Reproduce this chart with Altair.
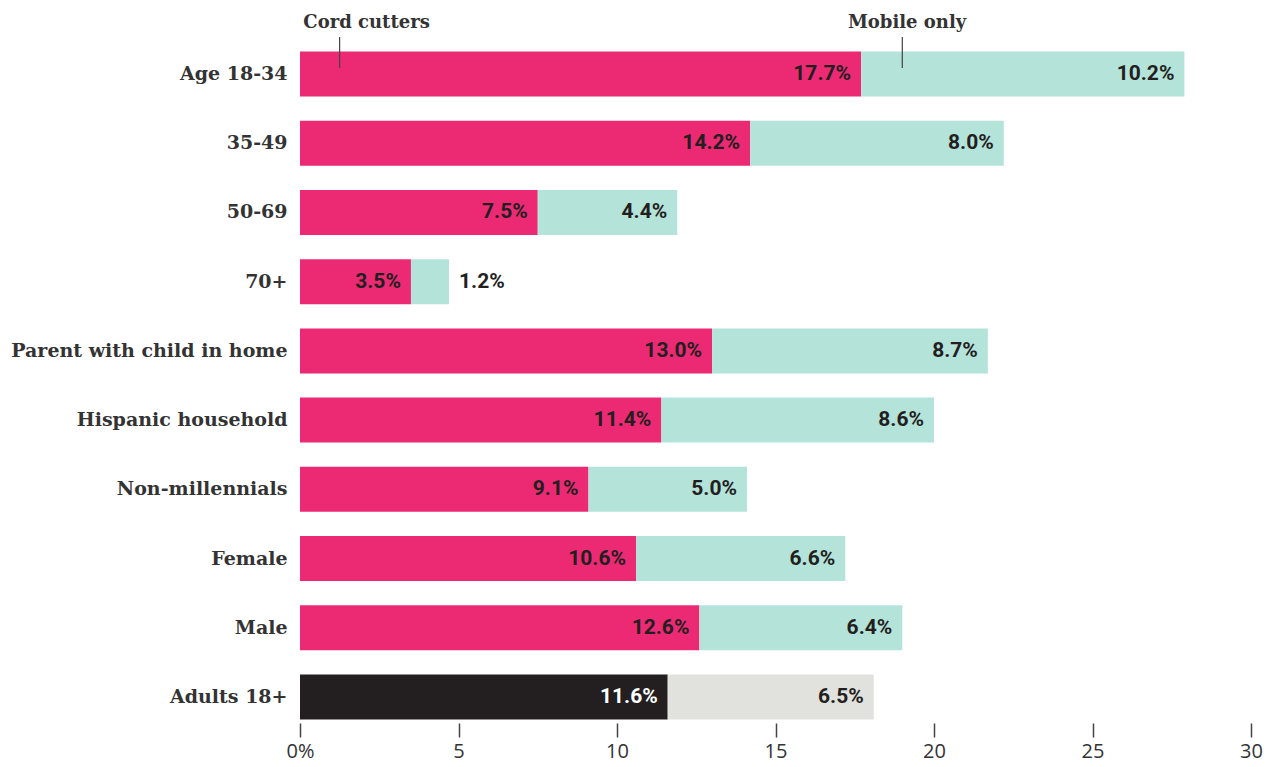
import altair as alt
import pandas as pd

categories = ["Age 18-34", "35-49", "50-69", "70+", "Parent with child in home",
              "Hispanic household", "Non-millennials", "Female", "Male", "Adults 18+"]
cord_cutters = [17.7, 14.2, 7.5, 3.5, 13.0, 11.4, 9.1, 10.6, 12.6, 11.6]
mobile_only = [10.2, 8.0, 4.4, 1.2, 8.7, 8.6, 5.0, 6.6, 6.4, 6.5]
tick_values = [0, 5, 10, 15, 20, 25, 30]

ann_labels = ["Cord cutters", "Mobile only"]
ann_text_x = [2.1, 19.15]
ann_tick_x = [1.25, 19.0]

rows = []
for cat, c, m in zip(categories, cord_cutters, mobile_only):
    total = cat == "Adults 18+"
    rows.append(dict(category=cat, seg="cord", key="cord_total" if total else "cord",
                     start=0.0, end=c, label=f"{c:.1f}%", inside=True, white=total))
    rows.append(dict(category=cat, seg="mobile", key="mobile_total" if total else "mobile",
                     start=c, end=c + m, label=f"{m:.1f}%", inside=m >= 2, white=False))
df = pd.DataFrame(rows)
ann = pd.DataFrame({"label": ann_labels, "tx": ann_text_x, "kx": ann_tick_x})

xscale = alt.Scale(domain=[0, 30], nice=False, zero=True)
yscale = alt.Scale(domain=categories, paddingInner=0.35, paddingOuter=0.05)

xaxis = alt.Axis(values=tick_values, title=None, grid=False, domain=False,
                 tickSize=14, tickColor="#444", tickWidth=1.5,
                 labelExpr="datum.value == 0 ? '0%' : datum.label",
                 labelFont="Open Sans", labelFontSize=20, labelColor="#333",
                 labelPadding=4, labelFlush=False)
yaxis = alt.Axis(title=None, ticks=False, domain=False, grid=False,
                 labelFont="DejaVu Serif", labelFontSize=19, labelFontWeight="bold",
                 labelColor="#333", labelPadding=13, labelLimit=0)

bars = alt.Chart(df).mark_bar().encode(
    x=alt.X("start:Q", scale=xscale, axis=xaxis), x2="end:Q",
    y=alt.Y("category:N", scale=yscale, sort=categories, axis=yaxis),
    color=alt.Color("key:N", legend=None,
                    scale=alt.Scale(domain=["cord", "mobile", "cord_total", "mobile_total"],
                                    range=["#ec2a74", "#b4e3da", "#231f20", "#e1e1dd"])),
)

text_common = dict(font="Roboto", fontSize=21, fontWeight="bold", baseline="middle")

xa = alt.X("end:Q", scale=xscale, axis=xaxis)
ya = alt.Y("category:N", scale=yscale, sort=categories, axis=yaxis)

labels_in = alt.Chart(df).transform_filter("datum.inside").mark_text(
    align="right", dx=-10, **text_common
).encode(
    x=xa, y=ya, text="label:N",
    color=alt.condition("datum.white", alt.value("#ffffff"), alt.value("#231f20")),
)

labels_out = alt.Chart(df).transform_filter("!datum.inside").mark_text(
    align="left", dx=10, **text_common
).encode(x=xa, y=ya, text="label:N", color=alt.value("#231f20"))

ann_text = alt.Chart(ann).mark_text(
    font="DejaVu Serif", fontSize=18, fontWeight="bold", color="#333",
    align="center", baseline="alphabetic"
).encode(x=alt.X("tx:Q", scale=xscale, axis=xaxis), y=alt.value(-20), text="label:N")

ann_tick = alt.Chart(ann).mark_rule(color="#444", strokeWidth=1.2).encode(
    x=alt.X("kx:Q", scale=xscale, axis=xaxis), y=alt.value(-11), y2=alt.value(20)
)

chart = alt.layer(bars, labels_in, labels_out, ann_tick, ann_text).properties(
    width=951, height=675, background="white",
    autosize=alt.AutoSizeParams(type="none"),
    padding={"left": 292, "top": 40, "right": 13, "bottom": 44},
).configure_view(stroke=None).configure_axis(grid=False)

chart.save("out.html", embed_options={"renderer": "svg", "actions": False})
